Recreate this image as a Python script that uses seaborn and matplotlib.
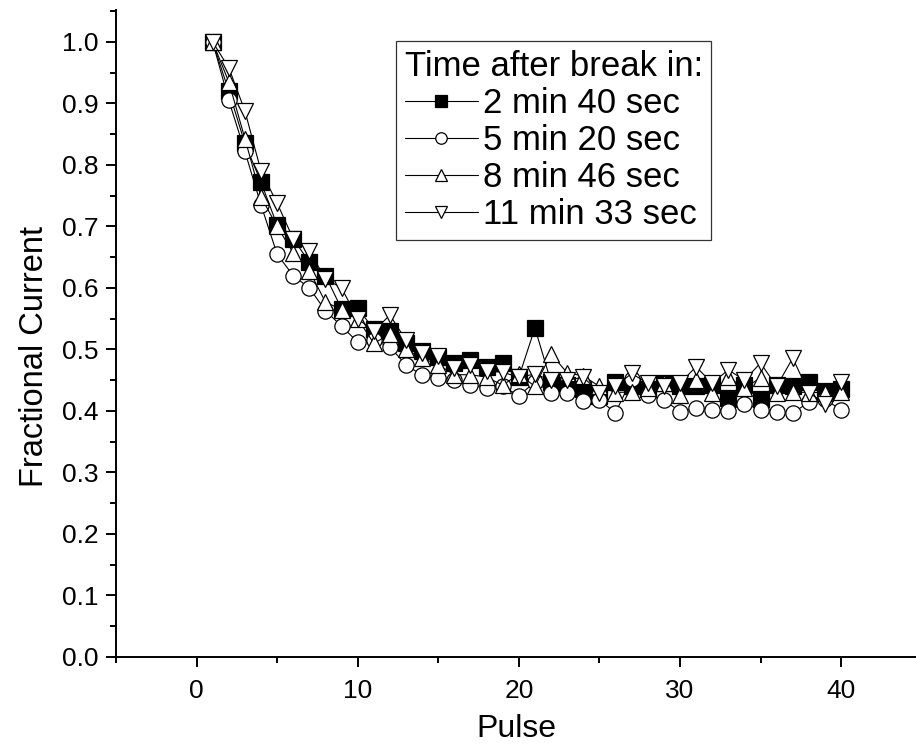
import numpy as np
import pandas as pd
import matplotlib
matplotlib.use('Agg')
import matplotlib.pyplot as plt
import seaborn as sns
from matplotlib.ticker import MultipleLocator

pulse = list(range(1, 41))

# 2 min 40 sec (filled squares)
t_2m40 = [1.0, 0.92, 0.835, 0.772, 0.702, 0.68, 0.642, 0.62, 0.566, 0.567,
          0.533, 0.53, 0.51, 0.497, 0.487, 0.478, 0.483, 0.472, 0.478, 0.455,
          0.535, 0.447, 0.442, 0.435, 0.425, 0.447, 0.44, 0.435, 0.445, 0.44,
          0.44, 0.442, 0.421, 0.442, 0.42, 0.442, 0.44, 0.447, 0.432, 0.435]
# 5 min 20 sec (open circles)
t_5m20 = [1.0, 0.905, 0.822, 0.735, 0.655, 0.62, 0.60, 0.563, 0.538, 0.512,
          0.515, 0.504, 0.475, 0.458, 0.453, 0.45, 0.442, 0.437, 0.44, 0.425,
          0.447, 0.43, 0.43, 0.417, 0.418, 0.397, 0.452, 0.426, 0.418, 0.399,
          0.405, 0.401, 0.40, 0.412, 0.402, 0.399, 0.396, 0.415, 0.42, 0.401]
# 8 min 46 sec (up triangles)
t_8m46 = [1.0, 0.935, 0.843, 0.748, 0.70, 0.657, 0.628, 0.577, 0.565, 0.55,
          0.51, 0.525, 0.50, 0.486, 0.475, 0.459, 0.459, 0.455, 0.442, 0.46,
          0.44, 0.493, 0.462, 0.457, 0.44, 0.43, 0.431, 0.437, 0.445, 0.426,
          0.45, 0.43, 0.455, 0.437, 0.454, 0.43, 0.431, 0.43, 0.43, 0.431]
# 11 min 33 sec (down triangles)
t_11m33 = [1.0, 0.958, 0.888, 0.79, 0.738, 0.68, 0.66, 0.615, 0.60, 0.55,
           0.53, 0.556, 0.515, 0.495, 0.49, 0.47, 0.475, 0.465, 0.463, 0.455,
           0.46, 0.45, 0.45, 0.455, 0.43, 0.44, 0.461, 0.445, 0.44, 0.445,
           0.472, 0.445, 0.467, 0.45, 0.478, 0.44, 0.486, 0.43, 0.412, 0.447]

labels = ['2 min 40 sec', '5 min 20 sec', '8 min 46 sec', '11 min 33 sec']
series = [t_2m40, t_5m20, t_8m46, t_11m33]
markers = ['s', 'o', '^', 'v']
faces = ['black', 'white', 'white', 'white']

sns.set_style('ticks')
plt.rcParams['font.family'] = ['Liberation Sans', 'DejaVu Sans']
plt.rcParams['text.color'] = 'black'
plt.rcParams['axes.labelcolor'] = 'black'
plt.rcParams['xtick.color'] = 'black'
plt.rcParams['ytick.color'] = 'black'

fig = plt.figure(figsize=(9.16, 7.53), dpi=100)
ax = fig.add_axes([116 / 916, 96 / 753, 1 - 116 / 916, 647 / 753])

for lab, vals, m, fc in zip(labels, series, markers, faces):
    df = pd.DataFrame({'Pulse': pulse, 'Current': vals})
    sns.lineplot(data=df, x='Pulse', y='Current', ax=ax, color='black',
                 linewidth=0.8, marker=m, markersize=11, markerfacecolor=fc,
                 markeredgecolor='black', markeredgewidth=0.9, label=lab)

ax.set_xlim(-5, 44.65)
ax.set_ylim(0, 1.052)
ax.xaxis.set_major_locator(MultipleLocator(10))
ax.xaxis.set_minor_locator(MultipleLocator(5))
ax.yaxis.set_major_locator(MultipleLocator(0.1))
ax.yaxis.set_minor_locator(MultipleLocator(0.05))
ax.set_yticks(np.arange(0, 1.01, 0.1))
ax.set_yticklabels([f'{v:.1f}' for v in np.arange(0, 1.01, 0.1)])

sns.despine(ax=ax)
for s in ['left', 'bottom']:
    ax.spines[s].set_linewidth(1.4)
    ax.spines[s].set_color('black')
ax.tick_params(which='major', direction='out', length=7.5, width=1.4,
               labelsize=19, colors='black', pad=5)
ax.tick_params(which='minor', direction='out', length=4, width=1.4)
ax.tick_params(axis='x', which='major', pad=8)

ax.set_xlabel('Pulse', fontsize=23, labelpad=8, color='black')
ax.set_ylabel('Fractional Current', fontsize=23.5, color='black')
ax.yaxis.set_label_coords(-0.082, 0.464)

leg = ax.legend(title='Time after break in:', loc='upper left',
                bbox_to_anchor=(0.35, 0.952), borderaxespad=0,
                fontsize=25, title_fontsize=25, frameon=True, fancybox=False,
                edgecolor='black', labelspacing=0.12, handlelength=2.1,
                handletextpad=0.15, borderpad=0.25, markerscale=0.75)
leg.get_frame().set_linewidth(0.9)
leg._legend_box.align = 'left'
for t in leg.get_texts():
    t.set_color('black')
leg.get_title().set_color('black')

fig.savefig('out.png', dpi=100)
